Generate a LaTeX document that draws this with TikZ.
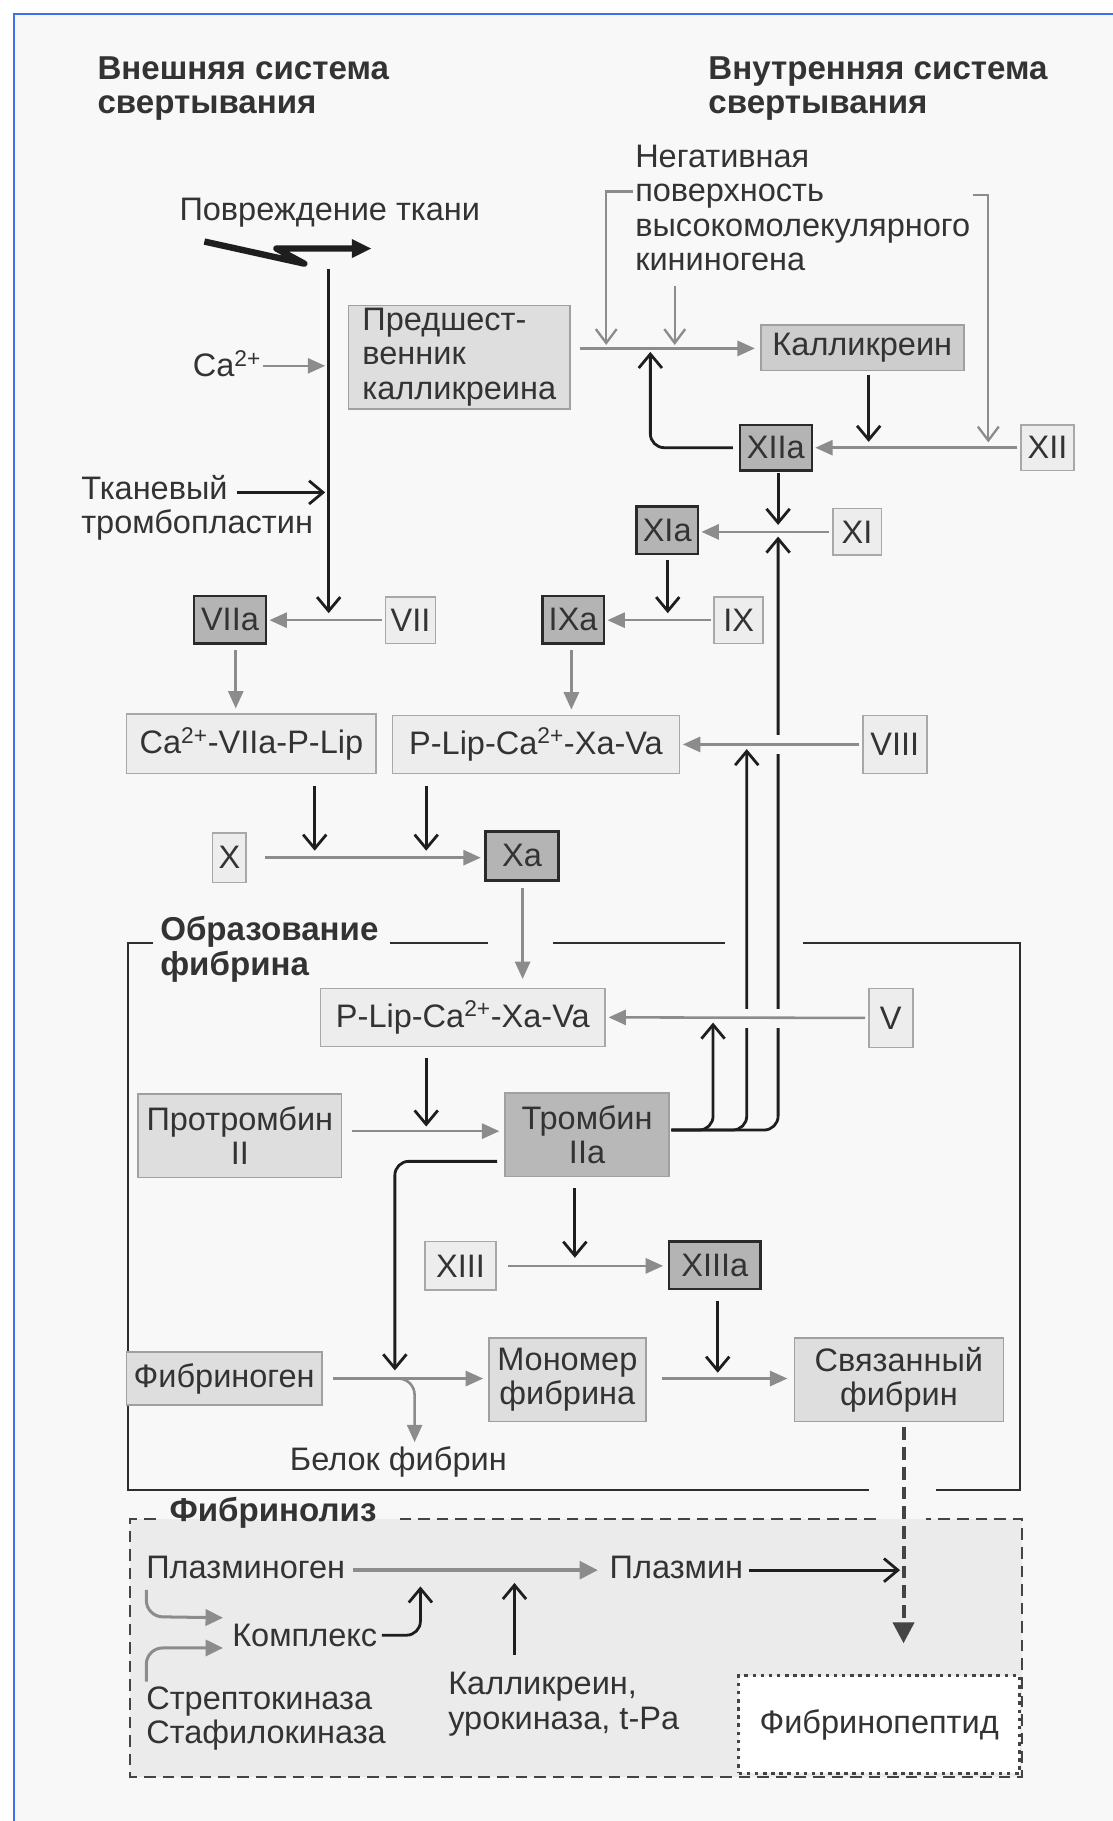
\documentclass[tikz,border=0pt]{standalone}
\usepackage{fontspec}
\setmainfont{Liberation Sans}
\usetikzlibrary{arrows.meta,calc}
\definecolor{bgc}{HTML}{F8F8F8}
\definecolor{txt}{HTML}{333333}
\definecolor{garr}{HTML}{8C8C8C}
\definecolor{barr}{HTML}{1E1E1E}
\definecolor{lfill}{HTML}{EDEDED}
\definecolor{lbord}{HTML}{A8A8A8}
\definecolor{mfill}{HTML}{DEDEDE}
\definecolor{mbord}{HTML}{A0A0A0}
\definecolor{kfill}{HTML}{CDCDCD}
\definecolor{dfill}{HTML}{B4B4B4}
\definecolor{dbord}{HTML}{2A2A2A}
\definecolor{tfill}{HTML}{B8B8B8}
\definecolor{framec}{HTML}{2E2E2E}
\definecolor{lysis}{HTML}{EBEBEB}
\definecolor{dashc}{HTML}{444444}
\definecolor{bluel}{HTML}{3F6FF0}
\begin{document}
\begin{tikzpicture}[x=1pt,y=-1pt,
  every node/.style={inner sep=0pt,outer sep=0pt,text=txt},
  fnt/.style={font=\fontsize{28}{29.5}\selectfont},
  hfnt/.style={font=\fontsize{28.5}{29.5}\selectfont\bfseries},
  lbox/.style={draw=lbord,fill=lfill,line width=1.4pt,fnt},
  mbox/.style={draw=mbord,fill=mfill,line width=1.4pt,fnt,align=center},
  dbox/.style={draw=dbord,fill=dfill,line width=2.2pt,fnt},
  gar/.style={draw=garr,line width=2.2pt,-{Triangle[length=15pt,width=13pt]}},
  bar/.style={draw=barr,line width=2.4pt,-{Straight Barb[length=12pt,width=20pt]}},
  gbar/.style={draw=garr,line width=2pt,-{Straight Barb[length=12pt,width=18pt]}},
  fr/.style={draw=framec,line width=2pt},
  dfr/.style={draw=dashc,line width=2pt,dash pattern=on 10pt off 6pt},
]
\useasboundingbox (0,0) rectangle (958,1568);
\fill[white] (0,0) rectangle (958,1568);
\fill[bgc] (12,12) rectangle (958,1568);
\draw[bluel,line width=2.2pt] (12,1568) -- (12,12) -- (958,12);

% ---------- frames ----------
\draw[fr] (132,812) -- (110,812) -- (110,1283) -- (748,1283);
\draw[fr] (806,1283) -- (878,1283) -- (878,812) -- (691,812);
\draw[fr] (624,812) -- (476,812);
\draw[fr] (420,812) -- (336,812);
\fill[lysis] (112,1308) rectangle (880,1530);
\draw[dfr] (134,1308) -- (112,1308) -- (112,1530) -- (880,1530) -- (880,1308) -- (797,1308);
\draw[dfr] (754,1308) -- (341,1308);

% ---------- texts ----------
\node[hfnt,anchor=west,align=left] (hext) at (84,76.5) {Внешняя система\\свертывания};
\node[hfnt,anchor=west,align=left] (hint) at (610,76.5) {Внутренняя система\\свертывания};
\node[fnt,anchor=west,align=left] (neg) at (547,179) {Негативная\\поверхность\\высокомолекулярного\\кининогена};
\node[fnt] (dmg) at (284,183) {Повреждение ткани};
\node[fnt,anchor=west] (ca) at (166,313) {Ca\textsuperscript{2+}};
\node[fnt,anchor=west,align=left] (tkan) at (70,437) {Тканевый\\тромбопластин};
\node[hfnt,anchor=west,align=left] (obr) at (138,817.5) {Образование\\фибрина};
\node[fnt] (belok) at (343,1259) {Белок фибрин};
\node[hfnt,anchor=west] (lys) at (146,1303) {Фибринолиз};
\node[fnt,anchor=west] (plg) at (126,1350) {Плазминоген};
\node[fnt,anchor=west] (plm) at (525,1350) {Плазмин};
\node[fnt,anchor=west] (kompl) at (200,1408) {Комплекс};
\node[fnt,anchor=west,align=left] (strep) at (126,1479.5) {Стрептокиназа\\Стафилокиназа};
\node[fnt,anchor=west,align=left] (kallu) at (386,1467.5) {Калликреин,\\урокиназа, t-Pa};

% ---------- boxes ----------
\node[mbox,align=left,minimum width=191pt,minimum height=89pt] (pk) at (395.5,307.5) {Предшест-\\венник\\калликреина};
\node[mbox,fill=kfill,minimum width=175pt,minimum height=39pt] (kal) at (742.5,299.5) {Калликреин};
\node[dbox,minimum width=62pt,minimum height=39pt] (xiia) at (668,385.5) {XIIa};
\node[lbox,minimum width=46pt,minimum height=39pt] (xii) at (902,385.5) {XII};
\node[dbox,minimum width=53pt,minimum height=41pt] (xia) at (574.5,456.5) {XIa};
\node[lbox,minimum width=42pt,minimum height=40pt] (xi) at (738,458) {XI};
\node[dbox,minimum width=53pt,minimum height=41pt] (ixa) at (493.5,533.5) {IXa};
\node[lbox,minimum width=42pt,minimum height=40pt] (ix) at (636,534) {IX};
\node[dbox,minimum width=62pt,minimum height=41pt] (viia) at (198,533.5) {VIIa};
\node[lbox,minimum width=43pt,minimum height=40pt] (vii) at (353.5,534) {VII};
\node[lbox,minimum width=215pt,minimum height=51pt] (cabox) at (216.5,640.5) {Ca\textsuperscript{2+}-VIIa-P-Lip};
\node[lbox,minimum width=247pt,minimum height=50pt] (plip1) at (461.5,641) {P-Lip-Ca\textsuperscript{2+}-Xa-Va};
\node[lbox,minimum width=55pt,minimum height=50pt] (viii) at (770.5,641) {VIII};
\node[lbox,minimum width=29pt,minimum height=43pt] (fx) at (197.5,738.5) {X};
\node[dbox,minimum width=63pt,minimum height=42pt] (xa) at (449.5,737) {Xa};
\node[lbox,minimum width=245pt,minimum height=50pt] (plip2) at (398.5,876) {P-Lip-Ca\textsuperscript{2+}-Xa-Va};
\node[lbox,minimum width=38pt,minimum height=51pt] (v) at (767,876.5) {V};
\node[mbox,minimum width=175pt,minimum height=72pt] (prot) at (206.5,978) {Протромбин\\II};
\node[mbox,fill=tfill,minimum width=141pt,minimum height=72pt] (thr) at (505.5,977) {Тромбин\\IIa};
\node[lbox,minimum width=61pt,minimum height=42pt] (xiii) at (396.5,1090) {XIII};
\node[dbox,minimum width=79pt,minimum height=41pt] (xiiia) at (615.5,1089.5) {XIIIa};
\node[mbox,minimum width=168pt,minimum height=46pt] (fgn) at (193,1187) {Фибриноген};
\node[mbox,minimum width=135pt,minimum height=72pt] (mono) at (488.5,1188) {Мономер\\фибрина};
\node[mbox,minimum width=180pt,minimum height=72pt] (bound) at (774,1188) {Связанный\\фибрин};
\node[fnt,draw=dashc,fill=white,line width=2.5pt,dash pattern=on 3pt off 4pt,minimum width=242pt,minimum height=84pt] (fpep) at (757,1485) {Фибринопептид};

% ---------- coordinates ----------
\coordinate (lt) at (283,232);
\coordinate (j7) at (283,533);
\coordinate (jca) at (283,315);
\coordinate (tk1) at (204,424);
\coordinate (jtk) at (283,424);
\coordinate (t0) at ($(thr.east)+(2,-4)$);
\coordinate (dsh) at (778,1352);
\coordinate (ka) at (443,1425);
\coordinate (kp) at (362,1366);

% ---------- black connectors ----------
\draw[barr,line width=5.5pt,line join=round,-{Triangle[length=17pt,width=15pt]}] (176,208) -- (262,227) -- (238,214) -- (320,214);
\draw[bar] (lt) -- ($(j7)+(0,-5)$);
\draw[bar] (tk1) -- ($(jtk)+(-3,0)$);
\draw[bar] ($(kal.south)+(5.5,4)$) -- ($(kal.south|-xiia.east)+(5.5,-5)$);
\draw[bar,rounded corners=12pt] ($(xiia.west)+(-6,0)$) -- (560,385.5) -- (560,303);
\draw[bar] ($(xiia.south)+(2,2)$) -- ($(xiia.south|-xi.west)+(2,-6)$);
\draw[bar] ($(xia.south)+(0.5,5)$) -- ($(xia.south|-ix.west)+(0.5,-6)$);
\draw[bar] ($(cabox.south)+(54.5,11)$) -- ($(cabox.south|-fx.east)+(54.5,-6)$);
\draw[bar] ($(plip1.south)+(-94.5,11)$) -- ($(plip1.south|-fx.east)+(-94.5,-6)$);
\draw[bar] ($(plip2.south)+(-31.5,10)$) -- (367,970);
\draw[bar] ($(thr.south)+(-10.5,10)$) -- ($(thr.south|-xiii.east)+(-10.5,-7)$);
\draw[bar] ($(xiiia.south)+(2.5,10)$) -- ($(xiiia.south|-mono.east)+(2.5,-6)$);
\draw[bar,rounded corners=12pt] ($(thr.west)+(-7,23)$) -- (340,1000) -- ($(fgn.east)+(63,-7)$);
\draw[bar,rounded corners=12pt] (t0) -- (614,973) -- ($(v.west)+(-134,4)$);
\draw[bar,rounded corners=12pt] (t0) -- (643,973) -- ($(viii.west)+(-100,4)$);
\draw[bar,rounded corners=12pt] (t0) -- (670,973) -- ($(xi.west)+(-47,4)$);
\draw[bar] ($(plm.east)+(5,2)$) -- ($(dsh)+(-3,0)$);
\draw[bar,rounded corners=12pt] ($(kompl.east)+(4,0)$) -- (362,1408) -- (kp);
\draw[bar] (ka) -- ($(ka)+(0,-62)$);

% gaps where grey lines cross the black lines
\fill[bgc] (667,633) rectangle (673,649);
\fill[bgc] (640,869) rectangle (646,885);
\fill[bgc] (667,869) rectangle (673,885);

% ---------- grey connectors ----------
\draw[gar] ($(ca.east)+(2,2)$) -- ($(jca)+(-3,0)$);
\draw[gar] ($(pk.east)+(8,-7.5)$) -- ($(kal.west)+(-5,0.5)$);
\draw[gbar] ($(neg.west)+(-2,-14)$) -- (522,165) -- (522,297);
\draw[gbar] (581,246) -- (581,297);
\draw[gbar] (838,168) -- (851,168) -- (851,381);
\draw[gar] ($(xii.west)+(-3,0)$) -- ($(xiia.east)+(3,0)$);
\draw[gar] ($(xi.west)+(-3,0)$) -- ($(xia.east|-xi.west)+(3,0)$);
\draw[gar] ($(ix.west)+(-3,0)$) -- ($(ixa.east|-ix.west)+(3,0)$);
\draw[gar] ($(vii.west)+(-3,0)$) -- ($(viia.east|-vii.west)+(3,0)$);
\draw[gar] ($(viia.south)+(5,6)$) -- ($(viia.south|-cabox.north)+(5,-5)$);
\draw[gar] ($(ixa.south)+(-1.5,6)$) -- ($(ixa.south|-plip1.north)+(-1.5,-5)$);
\draw[gar] ($(viii.west)+(-3,0)$) -- ($(plip1.east)+(3,0)$);
\draw[gar] ($(fx.east)+(16,0)$) -- ($(xa.west|-fx.east)+(-4,0)$);
\draw[gar] ($(xa.south)+(0.5,7)$) -- ($(xa.south|-plip2.north)+(0.5,-8)$);
\draw[gar] ($(v.west)+(-3,0)$) -- ($(plip2.east)+(3,0)$);
\draw[gar] ($(prot.east)+(9,-4)$) -- ($(thr.west)+(-5,-3)$);
\draw[gar] ($(xiii.east)+(10,0)$) -- ($(xiiia.west)+(-5,0.5)$);
\draw[gar] ($(fgn.east)+(10,0)$) -- ($(mono.west)+(-5,-1)$);
\draw[gar,rounded corners=14pt] (336,1187) -- (357,1187) -- ($(belok.north)+(14,-4)$);
\draw[gar] ($(mono.east)+(14,-1)$) -- ($(bound.west)+(-6,-1)$);
\draw[draw=garr,line width=4pt,-{Triangle[length=16pt,width=15pt]}] ($(plg.east)+(7,2)$) -- ($(plm.west)+(-10,2)$);
\draw[draw=garr,line width=2.6pt,rounded corners=14pt,-{Triangle[length=15pt,width=14pt]}] (126,1369) -- (126,1392) -- ($(kompl.west)+(-8,-15)$);
\draw[draw=garr,line width=2.6pt,rounded corners=14pt,-{Triangle[length=15pt,width=14pt]}] (126,1448) -- (126,1419) -- ($(kompl.west)+(-8,11)$);
\draw[draw=dashc,line width=3.5pt,dash pattern=on 11pt off 6pt,-{Triangle[length=18pt,width=18pt]}] ($(bound.south)+(4,5)$) -- ($(fpep.north)+(21,-28)$);
\end{tikzpicture}
\end{document}
